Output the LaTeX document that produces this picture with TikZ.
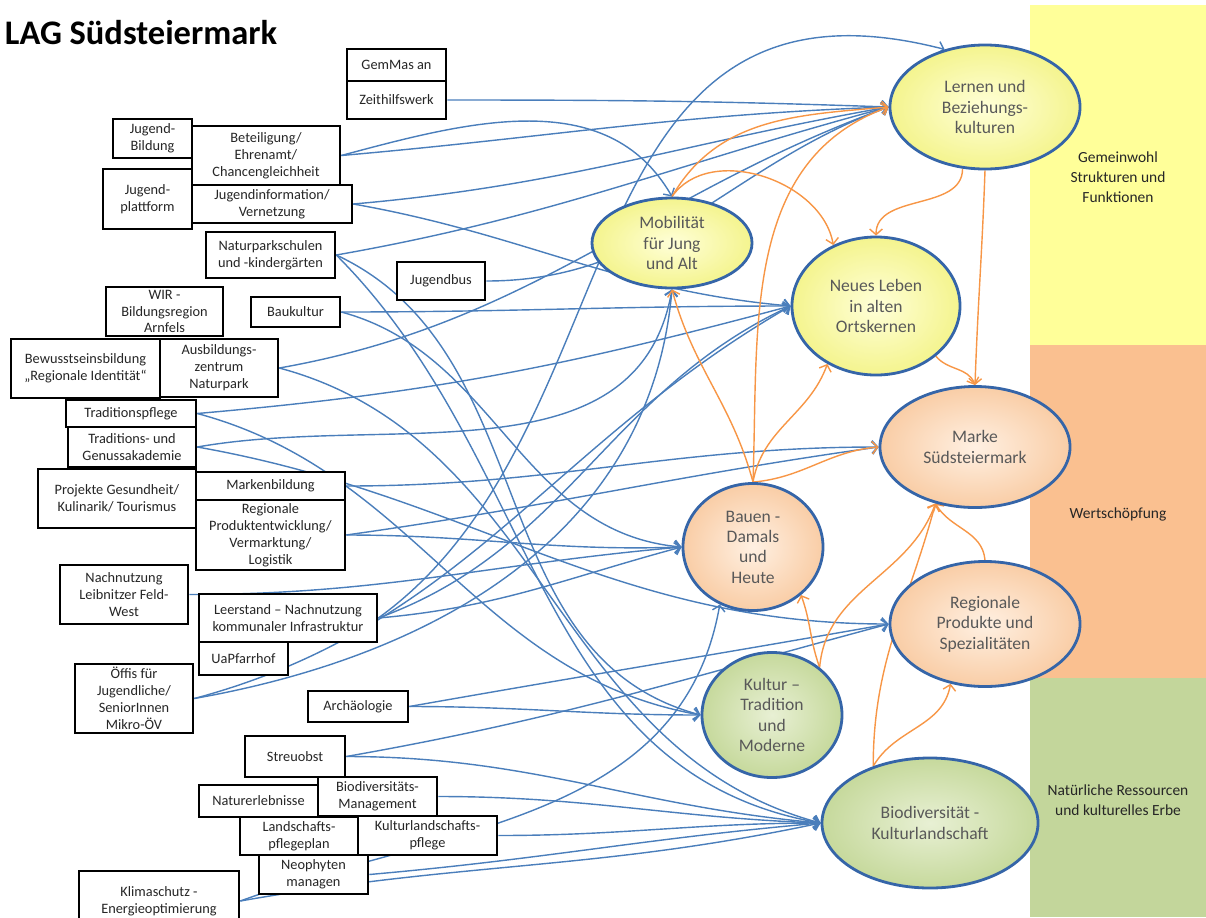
\documentclass[tikz,border=0pt]{standalone}
\usepackage{fontspec}
\setmainfont{Carlito}
\usetikzlibrary{arrows.meta}
\usetikzlibrary{shapes.geometric}

\definecolor{linkblue}{HTML}{4A7EBB}
\definecolor{linkorange}{HTML}{F79646}
\definecolor{ringblue}{HTML}{3565A8}
\definecolor{boxtext}{HTML}{262626}
\definecolor{goaltext}{HTML}{595959}
\definecolor{bandyel}{HTML}{FFFF99}
\definecolor{bandorg}{HTML}{FAC090}
\definecolor{bandgrn}{HTML}{C3D69B}
\definecolor{yelin}{HTML}{FFFFD8}
\definecolor{yelout}{HTML}{F4F48E}
\definecolor{peain}{HTML}{FFF0E2}
\definecolor{peaout}{HTML}{F9CDA6}
\definecolor{grnin}{HTML}{E8F0D4}
\definecolor{grnout}{HTML}{C6D99C}

\pgfdeclarelayer{bands}
\pgfdeclarelayer{links}
\pgfsetlayers{bands,links,main}

\begin{document}
\begin{tikzpicture}[x=0.025cm, y=-0.025cm,
    mbox/.style={draw, line width=1.8pt, fill=white, align=center, inner sep=1pt,
      font=\fontsize{10.2}{12}\selectfont, text=boxtext},
    goal/.style={ellipse, draw=ringblue, line width=2pt, align=center, inner sep=0pt,
      font=\fontsize{12.5}{14.5}\selectfont, text=goaltext, shade},
    goalyel/.style={goal, inner color=yelin, outer color=yelout},
    goalpea/.style={goal, inner color=peain, outer color=peaout},
    goalgrn/.style={goal, inner color=grnin, outer color=grnout},
    blu/.style={draw=linkblue, line width=1pt, -{Straight Barb[length=4pt,width=9pt]}},
    org/.style={draw=linkorange, line width=1pt, -{Straight Barb[length=4pt,width=9pt]}},
    bandtxt/.style={align=center, font=\fontsize{11}{14}\selectfont, text=boxtext}]
  \useasboundingbox (0,0) rectangle (1206,917);

  \begin{pgfonlayer}{bands}
    \fill[bandyel] (1030,5) rectangle (1206,345);
    \fill[bandorg] (1030,345) rectangle (1206,678);
    \fill[bandgrn] (1030,678) rectangle (1206,917);
  \end{pgfonlayer}

  \node[anchor=west, font=\fontsize{24.5}{28}\bfseries\selectfont, text=black] (title) at (0,33) {LAG Südsteiermark};

  \node[bandtxt] (band1) at (1118,177) {Gemeinwohl\\Strukturen und\\Funktionen};
  \node[bandtxt] (band2) at (1118,514) {Wertschöpfung};
  \node[bandtxt] (band3) at (1118,800) {Natürliche Ressourcen\\und kulturelles Erbe};

  \node[mbox, minimum width=2.475cm, minimum height=0.8cm] (gem) at (396.5,65) {GemMas an};
  \node[mbox, minimum width=2.475cm, minimum height=0.95cm] (zeit) at (396.5,100) {Zeithilfswerk};
  \node[mbox, minimum width=1.975cm, minimum height=0.975cm] (jbild) at (152.5,138.5) {Jugend-\\Bildung};
  \node[mbox, minimum width=3.7cm, minimum height=1.475cm] (betei) at (266,155.5) {Beteiligung/\\Ehrenamt/\\Chancengleichheit};
  \node[mbox, minimum width=2.225cm, minimum height=1.5cm] (jplatt) at (147.5,199) {Jugend-\\plattform};
  \node[mbox, minimum width=4.0cm, minimum height=0.95cm] (jinfo) at (272,204) {Jugendinformation/\\Vernetzung};
  \node[mbox, minimum width=3.225cm, minimum height=1.15cm] (natur) at (270.5,255) {Naturparkschulen\\und -kindergärten};
  \node[mbox, minimum width=2.2cm, minimum height=0.95cm] (jbus) at (441,281) {Jugendbus};
  \node[mbox, minimum width=2.925cm, minimum height=1.225cm] (wir) at (164.5,311.5) {WIR -\\Bildungsregion\\Arnfels};
  \node[mbox, minimum width=2.225cm, minimum height=0.75cm] (bauk) at (295.5,312) {Baukultur};
  \node[mbox, minimum width=3.725cm, minimum height=1.475cm] (bewusst) at (85.5,368.5) {Bewusstseinsbildung\\„Regionale Identität“};
  \node[mbox, minimum width=2.95cm, minimum height=1.45cm] (ausb) at (219,368) {Ausbildungs-\\zentrum\\Naturpark};
  \node[mbox, minimum width=3.25cm, minimum height=0.675cm] (tpfl) at (131,413.5) {Traditionspflege};
  \node[mbox, minimum width=3.2cm, minimum height=1.0cm] (tgen) at (132,447) {Traditions- und\\Genussakademie};
  \node[mbox, minimum width=3.95cm, minimum height=1.475cm] (proj) at (117,498.5) {Projekte Gesundheit/\\Kulinarik/ Tourismus};
  \node[mbox, minimum width=3.725cm, minimum height=0.7cm] (mark) at (270.5,486) {Markenbildung};
  \node[mbox, minimum width=3.725cm, minimum height=1.75cm] (rpe) at (270.5,535) {Regionale\\Produktentwicklung/\\Vermarktung/\\Logistik};
  \node[mbox, minimum width=3.2cm, minimum height=1.475cm] (nach) at (124,594.5) {Nachnutzung\\Leibnitzer Feld-\\West};
  \node[mbox, minimum width=4.45cm, minimum height=1.2cm] (leer) at (288,618) {Leerstand – Nachnutzung\\kommunaler Infrastruktur};
  \node[mbox, minimum width=2.225cm, minimum height=0.825cm] (uap) at (243.5,658.5) {UaPfarrhof};
  \node[mbox, minimum width=2.95cm, minimum height=1.725cm] (oeffis) at (134,698.5) {Öffis für\\Jugendliche/\\SeniorInnen\\Mikro-ÖV};
  \node[mbox, minimum width=2.5cm, minimum height=0.775cm] (arch) at (358,706.5) {Archäologie};
  \node[mbox, minimum width=2.5cm, minimum height=1.025cm] (streu) at (295,756.5) {Streuobst};
  \node[mbox, minimum width=2.975cm, minimum height=0.8cm] (naterl) at (258.5,801) {Naturerlebnisse};
  \node[mbox, minimum width=2.975cm, minimum height=0.975cm] (biom) at (377.5,796.5) {Biodiversitäts-\\Management};
  \node[mbox, minimum width=2.95cm, minimum height=0.95cm] (lpfl) at (299,836) {Landschafts-\\pflegeplan};
  \node[mbox, minimum width=3.475cm, minimum height=0.975cm] (kpfl) at (427.5,835.5) {Kulturlandschafts-\\pflege};
  \node[mbox, minimum width=2.725cm, minimum height=0.975cm] (neo) at (313.5,874.5) {Neophyten\\managen};
  \node[mbox, minimum width=4.0cm, minimum height=1.5cm] (klima) at (159,901) {Klimaschutz -\\Energieoptimierung};

  \node[goalyel, minimum width=4.75cm, minimum height=3.1cm] (lern) at (985,107) {Lernen und\\Beziehungs-\\kulturen};
  \node[goalyel, minimum width=4.0cm, minimum height=2.25cm] (mob) at (672,243) {Mobilität\\für Jung\\und Alt};
  \node[goalyel, minimum width=4.2cm, minimum height=3.45cm] (neu) at (876,306) {Neues Leben\\in alten\\Ortskernen};
  \node[goalpea, minimum width=4.75cm, minimum height=3.025cm] (marke) at (975,447) {Marke\\Südsteiermark};
  \node[goalpea, minimum width=4.75cm, minimum height=3.125cm] (reg) at (985,624) {Regionale\\Produkte und\\Spezialitäten};
  \node[goalpea, minimum width=3.5cm, minimum height=3.175cm] (bauen) at (753,547) {Bauen -\\Damals\\und\\Heute};
  \node[goalgrn, minimum width=3.5cm, minimum height=3.125cm] (kult) at (772,715) {Kultur –\\Tradition\\und\\Moderne};
  \node[goalgrn, minimum width=5.4cm, minimum height=3.25cm] (bio) at (930,823) {Biodiversität -\\Kulturlandschaft};

  \begin{pgfonlayer}{links}
    \draw[blu] (zeit.east) to[out=0,in=178] (lern.west);
    \draw[blu] (betei.east) to[out=5,in=182] (lern.west);
    \draw[blu] (betei.east) to[out=15,in=120] (mob.north);
    \draw[blu] (jinfo.east) to[out=5,in=190] (lern.west);
    \draw[blu] (jinfo.east) to[out=-10,in=175] (neu.west);
    \draw[blu] (natur.east) to[out=10,in=195] (lern.west);
    \draw[blu] (natur.east) to[out=-25,in=165] (kult.west);
    \draw[blu] (natur.east) to[out=-45,in=170] (bio.west);
    \draw[blu] (jbus.east) to[out=0,in=200] (lern.west);
    \draw[blu] (bauk.east) to[out=0,in=180] (neu.west);
    \draw[blu] (bauk.east) to[out=-15,in=175] (bauen.west);
    \draw[blu] (ausb.east) to[out=10,in=200] (lern.west);
    \draw[blu] (ausb.east) to[out=-15,in=165] (bio.west);
    \draw[blu] (tpfl.east) to[out=5,in=195] (neu.west);
    \draw[blu] (tpfl.east) to[out=-15,in=170] (kult.west);
    \draw[blu] (tgen.east) to[out=10,in=-100] (mob.south);
    \draw[blu] (tgen.east) to[out=-10,in=180] (reg.west);
    \draw[blu] (mark.east) to[out=0,in=180] (marke.west);
    \draw[blu] (rpe.east) to[out=8,in=188] (marke.west);
    \draw[blu] (rpe.east) to[out=0,in=182] (bauen.west);
    \draw[blu] (nach.east) to[out=0,in=185] (bauen.west);
    \draw[blu] (leer.east) to[out=5,in=195] (bauen.west);
    \draw[blu] (leer.east) to[out=20,in=205] (neu.west);
    \draw[blu] (leer.east) .. controls (640,430) and (560,-50) .. (lern.125);
    \draw[blu] (oeffis.east) to[out=10,in=-95] (mob.south);
    \draw[blu] (oeffis.east) to[out=15,in=210] (neu.west);
    \draw[blu] (arch.east) to[out=0,in=180] (kult.west);
    \draw[blu] (arch.east) to[out=10,in=190] (reg.west);
    \draw[blu] (streu.east) to[out=0,in=175] (bio.west);
    \draw[blu] (streu.east) to[out=10,in=195] (reg.west);
    \draw[blu] (biom.east) to[out=0,in=178] (bio.west);
    \draw[blu] (kpfl.east) to[out=0,in=180] (bio.west);
    \draw[blu] (neo.east) to[out=5,in=185] (bio.west);
    \draw[blu] (klima.east) to[out=10,in=192] (bio.west);
    \draw[blu] (klima.east) to[out=20,in=-100] (bauen.240);

    \draw[org] (mob.north) to[out=60,in=185] (lern.west);
    \draw[org] (mob.north) to[out=55,in=100] (neu.125);
    \draw[org] (lern.250) to[out=-90,in=90] (neu.north);
    \draw[org] (lern.south) to[out=-92,in=88] (marke.north);
    \draw[org] (neu.-40) to[out=-50,in=110] (marke.north);
    \draw[org] (bauen.north) to[out=105,in=-75] (mob.south);
    \draw[org] (bauen.north) to[out=88,in=200] (lern.west);
    \draw[org] (bauen.north) to[out=80,in=250] (neu.230);
    \draw[org] (bauen.north) to[out=5,in=185] (marke.west);
    \draw[org] (kult.45) to[out=110,in=-70] (bauen.-45);
    \draw[org] (kult.45) to[out=85,in=-110] (marke.235);
    \draw[org] (bio.135) to[out=90,in=-105] (marke.235);
    \draw[org] (bio.135) to[out=60,in=-100] (reg.240);
    \draw[org] (reg.north) to[out=95,in=-60] (marke.235);
  \end{pgfonlayer}
\end{tikzpicture}
\end{document}
